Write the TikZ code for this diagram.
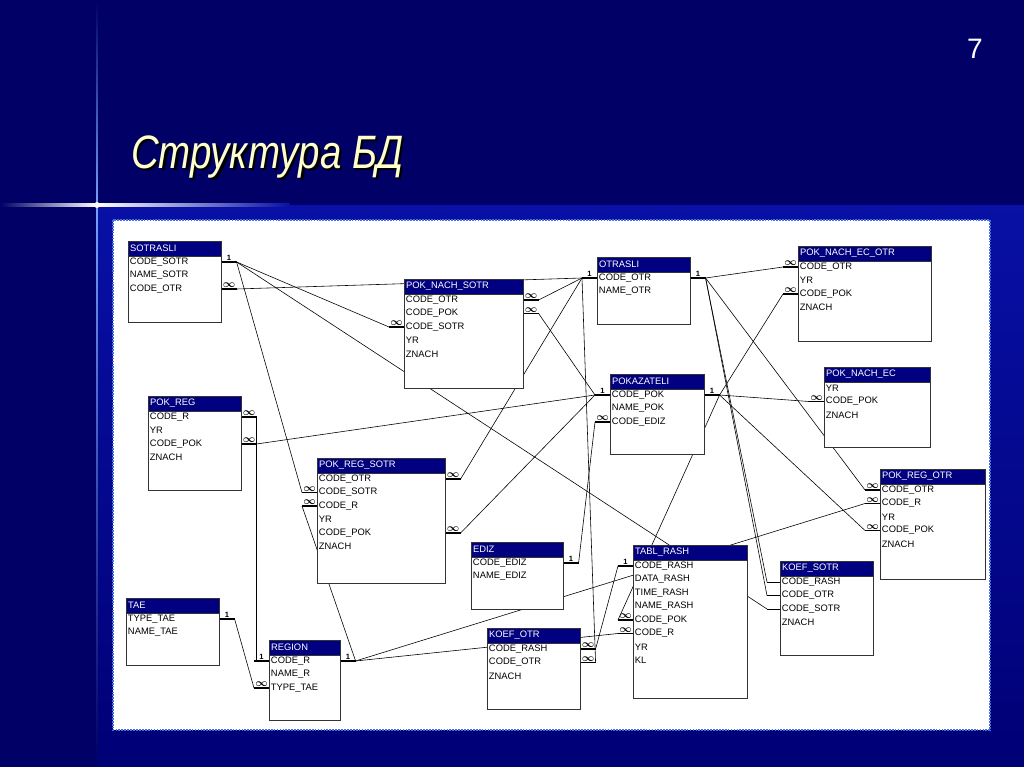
\documentclass[tikz,border=0pt]{standalone}
\usepackage{fontspec}
\setmainfont{Liberation Sans}
\usepackage{tikz}
\usetikzlibrary{calc}
\pgfdeclarelayer{back}
\pgfdeclarelayer{lines}
\pgfsetlayers{back,lines,main}

\definecolor{slide}{RGB}{0,0,102}
\definecolor{lowtop}{RGB}{8,16,165}
\definecolor{lowbot}{RGB}{0,0,118}
\definecolor{streakc}{RGB}{120,160,250}
\definecolor{hdblue}{RGB}{0,0,128}
\definecolor{titleyel}{RGB}{255,255,204}
\definecolor{dotblue}{RGB}{70,110,220}

\newcommand\tabfont{\fontsize{8}{9}\selectfont}
\newcommand\titletext{\scalebox{0.82}[1]{\fontsize{40}{44}\selectfont\itshape Структура БД}}

% one table of the schema: id, x1, y1, x2, y2, title, fields
\newcommand{\dbtable}[7]{%
  \pgfmathsetlengthmacro{\tabw}{(#4-#2)*0.03cm}%
  \pgfmathsetlengthmacro{\tabh}{(#5-#3)*0.03cm}%
  \pgfmathsetlengthmacro{\txtw}{(#4-#2)*0.03cm-3pt}%
  \node[tabbox, minimum width=\tabw, minimum height=\tabh] (#1) at (#2,#3) {};
  \node[tabhead, text width=\txtw] (#1-h) at (#2,#3) {#6};
  \foreach \fld [count=\i] in {#7}
    \node[tabfield, text width=\txtw] (#1-\i) at (#2,{#3+21+13.5*(\i-1)}) {\fld};
}
% key stubs on the right / left side of a field
\newcommand{\stubr}[3]{%
  \draw[stub] (#1.east |- #1-#2) -- ++(15,0) coordinate (#1-#2r)
    node[card, midway, above] (#1-#2rc) {#3};}
\newcommand{\stubl}[3]{%
  \draw[stub] (#1.west |- #1-#2) -- ++(-15,0) coordinate (#1-#2l)
    node[card, midway, above] (#1-#2lc) {#3};}
\newcommand\many{{\fontsize{9}{9}\selectfont$\infty$}}

\begin{document}
\begin{tikzpicture}[x=0.03cm,y=-0.03cm,
    tabbox/.style={draw=black!80, fill=white, anchor=north west, inner sep=0pt, line width=0.5pt},
    tabhead/.style={draw=black!80, fill=hdblue, text=white, anchor=north west, align=left,
      inner xsep=1.5pt, inner ysep=0pt, minimum height=0.44cm, font=\tabfont, line width=0.5pt},
    tabfield/.style={anchor=west, align=left, inner xsep=1.5pt, inner ysep=0pt, font=\tabfont},
    stub/.style={line width=1.6pt},
    card/.style={font=\fontsize{6.5}{6.5}\selectfont\bfseries\boldmath, inner sep=0.4pt},
    rel/.style={line width=0.5pt},
  ]
\useasboundingbox (0,0) rectangle (1024,767);

% slide background
\begin{pgfonlayer}{back}
  \fill[slide] (0,0) rectangle (1024,767);
  \shade[top color=lowtop, bottom color=lowbot] (97,206) rectangle (1024,767);
  \shade[top color=slide, bottom color=streakc] (96.4,0) rectangle (97.6,205);
  \shade[top color=streakc, bottom color=slide] (96.4,205) rectangle (97.6,767);
  \shade[left color=slide, right color=white] (0,203.5) rectangle (97,206.5);
  \shade[left color=white, right color=lowtop] (97,203.5) rectangle (290,206.5);
  \fill[white] (97,205) circle (3);
  \fill[white, draw=dotblue, densely dotted, line width=1.5pt] (113,220) rectangle (990,730);
\end{pgfonlayer}

\node[text=titleyel, anchor=west, inner sep=0pt] (title) at (131,158)
  {\makebox[0pt][l]{\hspace{2pt}\raisebox{-2pt}{\color{black}\titletext}}\titletext};
\node[text=white, font=\fontsize{24}{26}\selectfont] (pgnum) at (975,49) {7};

% tables
\dbtable{sotr}{128}{241}{221}{322}{SOTRASLI}{CODE\_SOTR,NAME\_SOTR,CODE\_OTR}
\dbtable{pns}{404}{279}{523}{388}{POK\_NACH\_SOTR}{CODE\_OTR,CODE\_POK,CODE\_SOTR,YR,ZNACH}
\dbtable{otr}{597}{257}{690}{324}{OTRASLI}{CODE\_OTR,NAME\_OTR}
\dbtable{pneo}{798}{246}{931}{341}{POK\_NACH\_EC\_OTR}{CODE\_OTR,YR,CODE\_POK,ZNACH}
\dbtable{pok}{610}{374}{704}{454}{POKAZATELI}{CODE\_POK,NAME\_POK,CODE\_EDIZ}
\dbtable{pne}{824}{367}{930}{447}{POK\_NACH\_EC}{YR,CODE\_POK,ZNACH}
\dbtable{preg}{148}{396}{241}{490}{POK\_REG}{CODE\_R,YR,CODE\_POK,ZNACH}
\dbtable{prs}{317}{458}{445}{583}{POK\_REG\_SOTR}{CODE\_OTR,CODE\_SOTR,CODE\_R,YR,CODE\_POK,ZNACH}
\dbtable{pro}{880}{469}{985}{579}{POK\_REG\_OTR}{CODE\_OTR,CODE\_R,YR,CODE\_POK,ZNACH}
\dbtable{ediz}{471}{542}{563}{609}{EDIZ}{CODE\_EDIZ,NAME\_EDIZ}
\dbtable{tr}{633}{545}{747}{698}{TABL\_RASH}{CODE\_RASH,DATA\_RASH,TIME\_RASH,NAME\_RASH,CODE\_POK,CODE\_R,YR,KL}
\dbtable{ks}{780}{561}{873}{655}{KOEF\_SOTR}{CODE\_RASH,CODE\_OTR,CODE\_SOTR,ZNACH}
\dbtable{tae}{126}{598}{219}{665}{TAE}{TYPE\_TAE,NAME\_TAE}
\dbtable{reg}{269}{640}{340}{720}{REGION}{CODE\_R,NAME\_R,TYPE\_TAE}
\dbtable{ko}{487}{628}{580}{709}{KOEF\_OTR}{CODE\_RASH,CODE\_OTR,ZNACH}

% key stubs
\stubr{sotr}{1}{1}
\stubr{sotr}{3}{\many}
\stubl{pns}{3}{\many}
\stubr{pns}{1}{\many}
\stubr{pns}{2}{\many}
\stubl{otr}{1}{1}
\stubr{otr}{1}{1}
\stubl{pneo}{1}{\many}
\stubl{pneo}{3}{\many}
\stubl{pok}{1}{1}
\stubr{pok}{1}{1}
\stubl{pok}{3}{\many}
\stubl{pne}{2}{\many}
\stubr{preg}{1}{\many}
\stubr{preg}{3}{\many}
\stubl{prs}{2}{\many}
\stubl{prs}{3}{\many}
\stubr{prs}{1}{\many}
\stubr{prs}{5}{\many}
\stubl{pro}{1}{\many}
\stubl{pro}{2}{\many}
\stubl{pro}{4}{\many}
\stubr{ediz}{1}{1}
\stubl{tr}{1}{1}
\stubl{tr}{5}{\many}
\stubl{tr}{6}{\many}
\stubr{tae}{1}{1}
\stubl{reg}{1}{1}
\stubl{reg}{3}{\many}
\stubr{reg}{1}{1}
\stubr{ko}{1}{\many}
\stubr{ko}{2}{\many}
\foreach \k in {1,2,3}
  \draw[rel] (ks.west |- ks-\k) -- ++(-13,0) coordinate (ks-\k l);

% relationships, behind the tables
\begin{pgfonlayer}{lines}
  \draw[rel] (sotr-1r) -- (pns-3l);
  \draw[rel] (sotr-1r) -- (prs-2l);
  \draw[rel] (sotr-1r) -- (ks-3l);
  \draw[rel] (sotr-3r) -- (otr-1l);
  \draw[rel] (otr-1l) -- (pns-1r);
  \draw[rel] (otr-1l) -- (prs-1r);
  \draw[rel] (otr-1l) -- (ko-2r);
  \draw[rel] (otr-1r) -- (pneo-1l);
  \draw[rel] (otr-1r) -- (pro-1l);
  \draw[rel] (otr-1r) -- (ks-1l);
  \draw[rel] (otr-1r) -- (ks-2l);
  \draw[rel] (pok-1l) -- (pns-2r);
  \draw[rel] (pok-1l) -- (preg-3r);
  \draw[rel] (pok-1l) -- (prs-5r);
  \draw[rel] (pok-1r) -- (pneo-3l);
  \draw[rel] (pok-1r) -- (pne-2l);
  \draw[rel] (pok-1r) -- (pro-4l);
  \draw[rel] (pok-1r) -- (tr-5l);
  \draw[rel] (ediz-1r) -- (pok-3l);
  \draw[rel] (preg-1r) |- (reg-1l);
  \draw[rel] (tae-1r) -- (reg-3l);
  \draw[rel] (reg-1r) -- (prs-3l);
  \draw[rel] (reg-1r) -- (pro-2l);
  \draw[rel] (reg-1r) -- (tr-6l);
  \draw[rel] (tr-1l) -- (ko-1r);
\end{pgfonlayer}
\end{tikzpicture}
\end{document}
